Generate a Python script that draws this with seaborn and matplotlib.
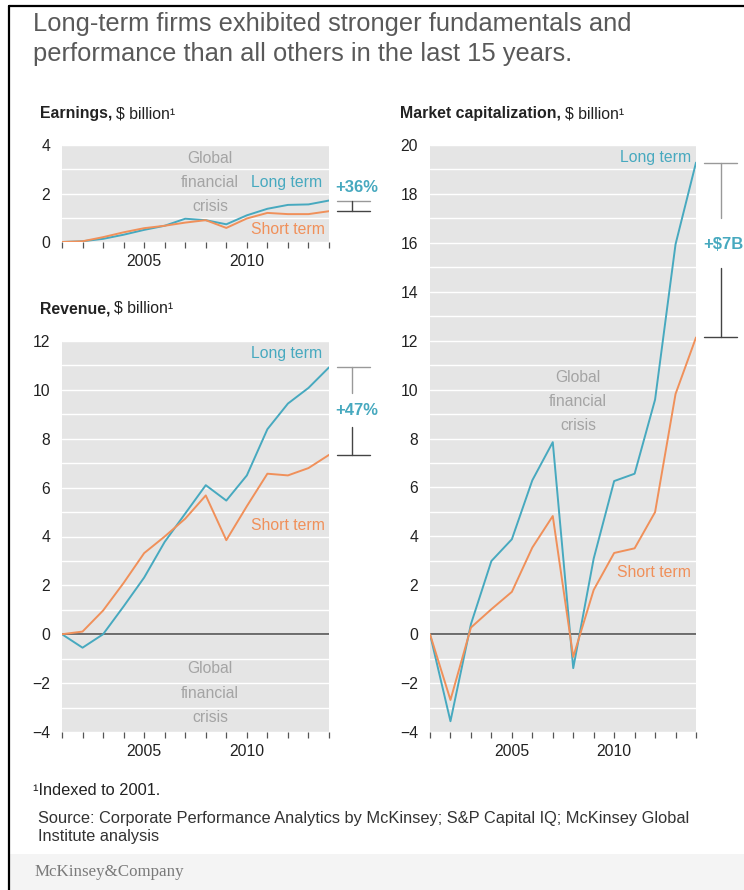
import numpy as np
import pandas as pd
import seaborn as sns
import matplotlib
matplotlib.use("Agg")
import matplotlib.pyplot as plt
from matplotlib.lines import Line2D
from matplotlib.patches import Rectangle

# ---- data (indexed to 2001, $ billion) ----
years = list(range(2001, 2015))

earnings_long = [0, 0.03, 0.13, 0.30, 0.50, 0.67, 0.96, 0.90, 0.73, 1.10, 1.37, 1.53, 1.55, 1.71]
earnings_short = [0, 0.03, 0.20, 0.40, 0.57, 0.67, 0.80, 0.90, 0.58, 0.97, 1.20, 1.15, 1.15, 1.27]

revenue_long = [0, -0.55, 0.0, 1.14, 2.32, 3.78, 4.94, 6.10, 5.47, 6.50, 8.39, 9.44, 10.08, 10.92]
revenue_short = [0, 0.11, 0.97, 2.10, 3.32, 4.00, 4.73, 5.68, 3.85, 5.24, 6.57, 6.50, 6.80, 7.34]

mcap_long = [0, -3.56, 0.41, 2.99, 3.88, 6.29, 7.85, -1.39, 3.09, 6.26, 6.56, 9.59, 15.94, 19.28]
mcap_short = [0, -2.69, 0.27, 1.02, 1.73, 3.54, 4.83, -0.93, 1.81, 3.32, 3.51, 4.99, 9.82, 12.13]

series_names = ["Long term", "Short term"]
gap_labels = ["+36%", "+47%", "+$7B"]
labeled_years = [2005, 2010]

title_lines = ["Long-term firms exhibited stronger fundamentals and",
               "performance than all others in the last 15 years."]
footnote = "¹Indexed to 2001."
source_lines = ["Source: Corporate Performance Analytics by McKinsey; S&P Capital IQ; McKinsey Global",
                "Institute analysis"]
brand = "McKinsey&Company"

# ---- style ----
TEAL = "#47A9BF"
ORANGE = "#F0905A"
NOTE_GRAY = "#A4A4A4"
PANEL_BG = "#E5E5E5"
TEXT = "#222222"

sns.set_theme(style="white")
plt.rcParams["font.family"] = ["Liberation Sans", "DejaVu Sans"]

W, H = 744, 890
fig = plt.figure(figsize=(W / 100, H / 100), dpi=100)
fig.patch.set_facecolor("white")


def fx(x):
    return x / W


def fy(y):
    return 1 - y / H


def add_panel(left, top, right, bottom):
    return fig.add_axes([fx(left), fy(bottom), fx(right) - fx(left), fy(top) - fy(bottom)])


def make_frame(long_vals, short_vals):
    return pd.DataFrame({
        "year": years * 2,
        "value": long_vals + short_vals,
        "series": [series_names[0]] * len(years) + [series_names[1]] * len(years),
    })


def draw_lines(ax, long_vals, short_vals):
    sns.lineplot(data=make_frame(long_vals, short_vals), x="year", y="value", hue="series",
                 palette={series_names[0]: TEAL, series_names[1]: ORANGE},
                 lw=1.4, legend=False, ax=ax, zorder=3)


def style_panel(ax, ylo, yhi, step, zero_line):
    ax.set_facecolor(PANEL_BG)
    for s in ax.spines.values():
        s.set_visible(False)
    ax.set_xlim(2001, 2014)
    ax.set_ylim(ylo, yhi)
    ax.set_yticks(np.arange(ylo, yhi + 0.01, step))
    ax.set_yticks(np.arange(ylo, yhi + 0.01, 1), minor=True)
    ax.grid(True, axis="y", which="both", color="white", lw=1.0)
    ax.set_axisbelow(True)
    ax.set_xticks(years)
    ax.set_xticklabels([str(y) if y in labeled_years else "" for y in years])
    ax.tick_params(axis="x", which="major", direction="out", length=4, width=0.9,
                   color="#555555", pad=5, labelsize=11.3, labelcolor=TEXT, bottom=True)
    ax.tick_params(axis="y", which="both", length=0, pad=8.5, labelsize=11.3, labelcolor=TEXT)
    ax.set_xlabel("")
    ax.set_ylabel("")
    if zero_line:
        ax.axhline(0, color="#555555", lw=1.2, zorder=2)


def bracket(ax, top, bottom, label, text_y, gap=None, xline=2015.12, xtext=2015.37,
            ha="center"):
    kw = dict(clip_on=False, zorder=4)
    ax.plot([2014.39, 2016.0], [top, top], color="#999999", lw=1.0, **kw)
    ax.plot([2014.39, 2016.0], [bottom, bottom], color="#444444", lw=1.0, **kw)
    if gap is None:
        ax.plot([xline, xline], [bottom, top], color="#444444", lw=1.0, **kw)
    else:
        ax.plot([xline, xline], [gap[0], top], color="#999999", lw=1.0, **kw)
        ax.plot([xline, xline], [bottom, gap[1]], color="#444444", lw=1.0, **kw)
    ax.text(xtext, text_y, label, color=TEAL, fontsize=12, fontweight="bold",
            ha=ha, va="center", clip_on=False)


def crisis_note(ax, x, ys):
    for word, y in zip(["Global", "financial", "crisis"], ys):
        ax.text(x, y, word, color=NOTE_GRAY, fontsize=11.3, ha="center", va="center", zorder=1.5)


# ---- Earnings ----
ax_e = add_panel(62, 145, 329, 242)
draw_lines(ax_e, earnings_long, earnings_short)
style_panel(ax_e, 0, 4, 2, zero_line=False)
crisis_note(ax_e, 2008.2, [3.46, 2.47, 1.48])
ax_e.text(2013.65, 2.47, series_names[0], color=TEAL, fontsize=11.3, ha="right", va="center")
ax_e.text(2013.8, 0.5, series_names[1], color=ORANGE, fontsize=11.3, ha="right", va="center")
bracket(ax_e, earnings_long[-1], earnings_short[-1], gap_labels[0], 2.25)

# ---- Revenue ----
ax_r = add_panel(62, 341, 329, 732)
draw_lines(ax_r, revenue_long, revenue_short)
style_panel(ax_r, -4, 12, 2, zero_line=True)
crisis_note(ax_r, 2008.2, [-1.39, -2.42, -3.4])
ax_r.text(2013.65, 11.5, series_names[0], color=TEAL, fontsize=11.3, ha="right", va="center")
ax_r.text(2013.8, 4.43, series_names[1], color=ORANGE, fontsize=11.3, ha="right", va="center")
bracket(ax_r, revenue_long[-1], revenue_short[-1], gap_labels[1], 9.15, gap=(9.88, 8.49))

# ---- Market capitalization ----
ax_m = add_panel(430, 145, 696, 732)
draw_lines(ax_m, mcap_long, mcap_short)
style_panel(ax_m, -4, 20, 2, zero_line=True)
crisis_note(ax_m, 2008.23, [10.5, 9.53, 8.55])
ax_m.text(2013.75, 19.5, series_names[0], color=TEAL, fontsize=11.3, ha="right", va="center")
ax_m.text(2013.75, 2.53, series_names[1], color=ORANGE, fontsize=11.3, ha="right", va="center")
bracket(ax_m, mcap_long[-1], mcap_short[-1], gap_labels[2], 15.95, gap=(17.0, 14.97),
        xline=2015.22, xtext=2014.36, ha="left")

# ---- titles and notes ----
fig.text(fx(33), fy(31), title_lines[0], fontsize=18.4, color="#595959", va="baseline")
fig.text(fx(33), fy(61), title_lines[1], fontsize=18.4, color="#595959", va="baseline")

fig.canvas.draw()
renderer = fig.canvas.get_renderer()


def panel_title(x, y, bold, rest):
    t = fig.text(fx(x), fy(y), bold, fontsize=11.4, fontweight="bold", color=TEXT, va="baseline")
    bb = t.get_window_extent(renderer)
    fig.text(bb.x1 / W + fx(4), fy(y), rest, fontsize=11.4, color=TEXT, va="baseline")


panel_title(40, 118, "Earnings,", "$ billion¹")
panel_title(40, 313, "Revenue,", "$ billion¹")
panel_title(400, 118, "Market capitalization,", "$ billion¹")

fig.text(fx(33), fy(795), footnote, fontsize=11.8, color=TEXT, va="baseline")
fig.text(fx(38), fy(823), source_lines[0], fontsize=11.8, color="#333333", va="baseline")
fig.text(fx(38), fy(841), source_lines[1], fontsize=11.8, color="#333333", va="baseline")

# footer band, brand and frame
fig.patches.append(Rectangle((fx(10), 0), 1 - fx(10), fy(854), transform=fig.transFigure,
                             facecolor="#F4F4F4", edgecolor="none", zorder=0))
fig.text(fx(35), fy(876), brand, fontsize=12.2, color="#7A7A7A", va="baseline",
         family=["Liberation Serif", "DejaVu Serif"])
fig.lines.append(Line2D([fx(9), fx(9)], [0, fy(6)], transform=fig.transFigure,
                        color="black", lw=1.6))
fig.lines.append(Line2D([fx(9), 1], [fy(6), fy(6)], transform=fig.transFigure,
                        color="black", lw=1.6))

fig.savefig("out.png", dpi=100, facecolor="white")
